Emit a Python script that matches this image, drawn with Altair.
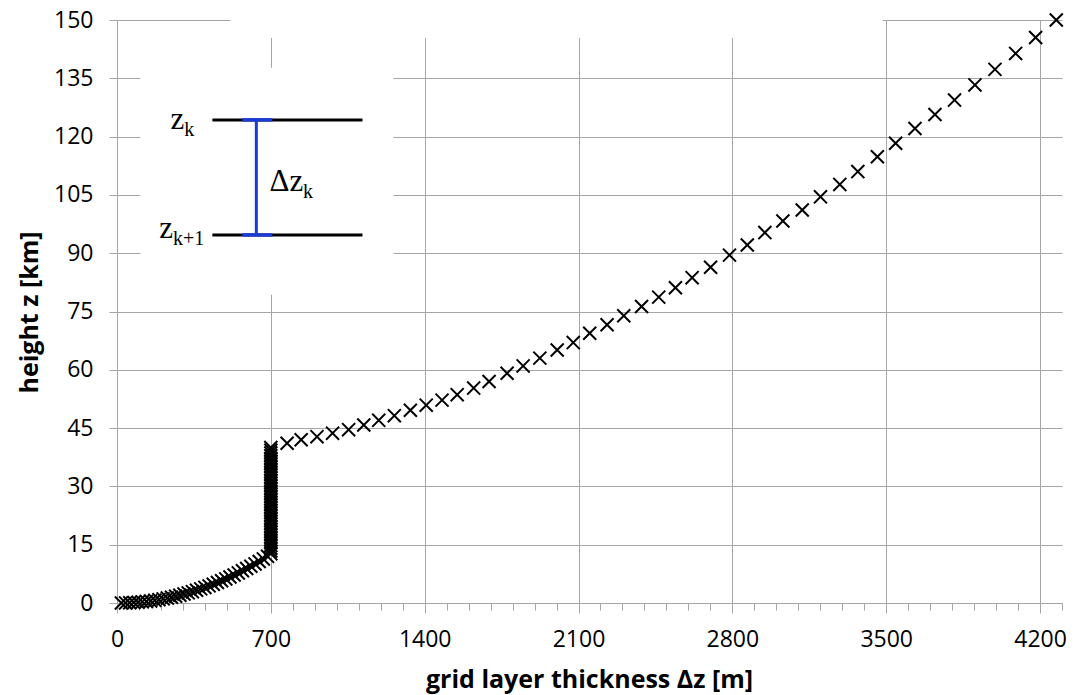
import altair as alt
import pandas as pd

# ---- data ----
# lower, stretched layers (grid layer thickness dz [m], height z [km])
low_dz = [20, 39, 58, 77, 96, 115, 134, 153, 172, 191, 210, 229, 248, 267, 286, 305, 324, 343,
          362, 381, 400, 419, 438, 457, 476, 495, 514, 533, 552, 571, 590, 609, 628, 647, 666, 685]
low_z = [0.00, 0.02, 0.06, 0.12, 0.19, 0.29, 0.41, 0.54, 0.69, 0.86, 1.06, 1.27, 1.49, 1.74, 2.01,
         2.30, 2.60, 2.92, 3.27, 3.63, 4.01, 4.41, 4.83, 5.27, 5.72, 6.20, 6.70, 7.21, 7.74, 8.29,
         8.87, 9.46, 10.06, 10.69, 11.34, 12.01]

# constant 700 m layers
mid_z = [12.69, 13.39, 14.09, 14.79, 15.49, 16.19, 16.89, 17.59, 18.29, 18.99, 19.69, 20.39, 21.09,
         21.79, 22.49, 23.19, 23.89, 24.59, 25.29, 25.99, 26.69, 27.39, 28.09, 28.79, 29.49, 30.19,
         30.89, 31.59, 32.29, 32.99, 33.69, 34.39, 35.09, 35.79, 36.49, 37.19, 37.89, 38.59, 39.29,
         39.99]
mid_dz = [700] * len(mid_z)

# upper, stretched layers
up_dz = [774, 838, 910, 981, 1054, 1123, 1191, 1262, 1335, 1407, 1479, 1548, 1623, 1693, 1775,
         1848, 1924, 2003, 2076, 2151, 2230, 2306, 2387, 2465, 2541, 2617, 2701, 2787, 2868, 2948,
         3030, 3118, 3201, 3289, 3371, 3460, 3543, 3631, 3722, 3811, 3904, 3995, 4089, 4180, 4274]
up_z = [41.1, 42.0, 42.8, 43.7, 44.6, 45.8, 47.0, 48.2, 49.6, 50.9, 52.2, 53.6, 55.3, 57.0, 59.1,
        61.0, 63.0, 65.1, 67.0, 69.4, 71.6, 73.9, 76.3, 78.7, 81.1, 83.7, 86.4, 89.5, 92.1, 95.3,
        98.3, 101.1, 104.5, 107.7, 111.0, 114.8, 118.3, 122.1, 125.7, 129.4, 133.3, 137.3, 141.4,
        145.5, 150.0]

x_ticks = list(range(0, 4301, 100))
y_ticks = list(range(0, 151, 15))

df = pd.DataFrame({"dz": low_dz + mid_dz + up_dz, "z": low_z + mid_z + up_z})

# ---- inset sketch (annotation) ----
mask_df = pd.DataFrame({"x": [106, 516], "x2": [1258, 3484], "y": [79.3, 145.4], "y2": [137.7, 151.5]})
black_df = pd.DataFrame({"x": [434, 434], "x2": [1117, 1117], "y": [124.3, 94.7]})
blue_h_df = pd.DataFrame({"x": [570, 570], "x2": [707, 707], "y": [124.3, 94.7]})
blue_v_df = pd.DataFrame({"x": [634], "y": [124.3], "y2": [94.7]})
big_txt = pd.DataFrame({"x": [243, 192, 694], "y": [122.0, 94.0, 106.0], "t": ["z", "z", "Δz"]})
sub_txt = pd.DataFrame({"x": [306, 255, 846], "y": [120.1, 92.0, 104.2], "t": ["k", "k+1", "k"]})

GRID = "#a6a6a6"
FONT = "Open Sans"

xs = alt.Scale(domain=[0, 4300], nice=False, zero=False)
ys = alt.Scale(domain=[0, 150], nice=False, zero=False)

x_axis = alt.Axis(
    values=x_ticks, tickCount=100,
    title="grid layer thickness Δz [m]",
    labelExpr="datum.value % 700 === 0 ? '' + datum.value : ''",
    labelOverlap=False, labelFlush=False,
    labelFont=FONT, labelFontSize=23, labelColor="black", labelPadding=15,
    gridColor=GRID,
    gridOpacity={"condition": {"test": "datum.value % 700 === 0", "value": 1}, "value": 0},
    tickColor=GRID,
    tickSize={"condition": {"test": "datum.value % 700 === 0", "value": 10}, "value": 7},
    domainColor=GRID,
    titleFont=FONT, titleFontSize=25, titleFontWeight="bold", titleColor="black",
    titleX=472, titleY=84, titleAlign="center", titleBaseline="alphabetic",
)
y_axis = alt.Axis(
    values=y_ticks, tickCount=20,
    title="height z [km]",
    labelFont=FONT, labelFontSize=23, labelColor="black", labelPadding=16,
    gridColor=GRID, tickColor=GRID, tickSize=8, domainColor=GRID,
    titleFont=FONT, titleFontSize=25, titleFontWeight="bold", titleColor="black",
    titleAngle=-90, titleX=-80, titleY=292, titleAlign="center", titleBaseline="alphabetic",
)

base = alt.Chart(df)

points = base.mark_point(
    shape="M-1,-1L1,1M1,-1L-1,1", filled=False, size=170, strokeWidth=2,
    color="black", opacity=1,
).encode(x=alt.X("dz:Q", scale=xs, axis=x_axis), y=alt.Y("z:Q", scale=ys, axis=y_axis))

mask = alt.Chart(mask_df).mark_rect(color="white").encode(
    x=alt.X("x:Q", scale=xs), x2="x2:Q", y=alt.Y("y:Q", scale=ys), y2="y2:Q")

black_lines = alt.Chart(black_df).mark_rule(color="black", strokeWidth=3).encode(
    x=alt.X("x:Q", scale=xs), x2="x2:Q", y=alt.Y("y:Q", scale=ys))
blue_caps = alt.Chart(blue_h_df).mark_rule(color="#1b3bd6", strokeWidth=3.5).encode(
    x=alt.X("x:Q", scale=xs), x2="x2:Q", y=alt.Y("y:Q", scale=ys))
blue_bar = alt.Chart(blue_v_df).mark_rule(color="#1b3bd6", strokeWidth=3).encode(
    x=alt.X("x:Q", scale=xs), y=alt.Y("y:Q", scale=ys), y2="y2:Q")

big = alt.Chart(big_txt).mark_text(font="Liberation Serif", fontSize=31, align="left",
                                   baseline="alphabetic", color="black").encode(
    x=alt.X("x:Q", scale=xs), y=alt.Y("y:Q", scale=ys), text="t:N")
sub = alt.Chart(sub_txt).mark_text(font="Liberation Serif", fontSize=20, align="left",
                                   baseline="alphabetic", color="black").encode(
    x=alt.X("x:Q", scale=xs), y=alt.Y("y:Q", scale=ys), text="t:N")

chart = alt.layer(points, mask, black_lines, blue_bar, blue_caps, big, sub).properties(
    width=945, height=583,
    padding={"left": 117, "top": 20, "right": 16, "bottom": 92},
    autosize=alt.AutoSizeParams(type="none"),
    background="white",
).configure_view(strokeWidth=0)

chart.save("out.html", embed_options={"renderer": "svg", "actions": False})
